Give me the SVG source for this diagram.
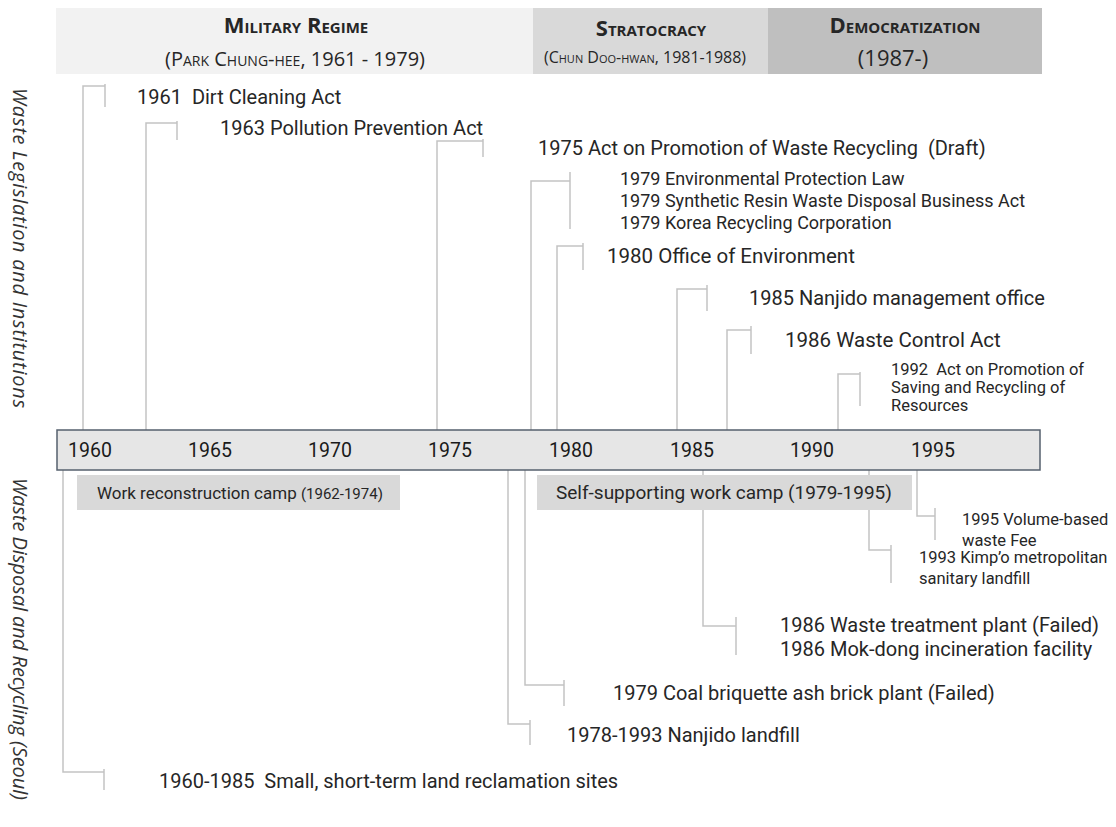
<svg xmlns="http://www.w3.org/2000/svg" width="1116" height="827" viewBox="0 0 1116 827">
<style>
.hdr{font-family:"Open Sans","Liberation Sans",sans-serif;fill:#262626;text-anchor:middle}
.ttl{font-weight:bold;font-size:22px;font-variant:small-caps}
.sub{font-size:20px;font-variant:small-caps}
.lbl{font-family:Roboto,"Liberation Sans",sans-serif;fill:#262626;font-size:20px}
.s18{font-size:18px}
.s16{font-size:16.5px}
.side{font-family:"Open Sans","Liberation Sans",sans-serif;font-style:italic;font-size:20px;fill:#333}
.yr{font-family:Roboto,"Liberation Sans",sans-serif;font-size:19.5px;fill:#1a1a1a}
.con{fill:none;stroke:#c3c3c3;stroke-width:1.5}
</style>
<rect width="1116" height="827" fill="#ffffff"/>
<g id="header">
<rect x="56" y="8" width="477" height="66" fill="#f2f2f2"/>
<rect x="533" y="8" width="235" height="66" fill="#d9d9d9"/>
<rect x="768" y="8" width="274" height="66" fill="#bfbfbf"/>
<text class="hdr ttl" x="296" y="33">Military Regime</text>
<text class="hdr sub" x="295" y="66">(Park Chung-hee, 1961 - 1979)</text>
<text class="hdr ttl" x="651" y="36">Stratocracy</text>
<text class="hdr sub" x="645" y="63" style="font-size:16px">(Chun Doo-hwan, 1981-1988)</text>
<text class="hdr ttl" x="905" y="33">Democratization</text>
<text class="hdr" x="893" y="66" style="font-size:22px">(1987-)</text>
</g>
<g id="side-labels">
<text class="side" transform="translate(13,248) rotate(90)" text-anchor="middle" textLength="320" lengthAdjust="spacing">Waste Legislation and Institutions</text>
<text class="side" transform="translate(13,639) rotate(90)" text-anchor="middle" textLength="322" lengthAdjust="spacing">Waste Disposal and Recycling (Seoul)</text>
</g>
<g id="connectors">
<path class="con" d="M83,430V86H105M105,84V107"/>
<path class="con" d="M146,430V123H177M177,121V140"/>
<path class="con" d="M437,430V141H483M483,139V157"/>
<path class="con" d="M531,430V181H570M570,172V229"/>
<path class="con" d="M557,430V246H583M583,243V270"/>
<path class="con" d="M677,430V289H707M707,285V311"/>
<path class="con" d="M727,430V330H751M751,326V354"/>
<path class="con" d="M838,430V374H860M860,372V406"/>
<path class="con" d="M63,470V772H104M104,769V790"/>
<path class="con" d="M508,470V724H530M530,720V745"/>
<path class="con" d="M525,470V685H564M564,680V706"/>
<path class="con" d="M703,470V626H736M736,617V655"/>
<path class="con" d="M869,470V550H891M891,545V583"/>
<path class="con" d="M917,470V516H935M935,508V540"/>
</g>
<g id="timeline">
<rect x="57" y="430" width="983" height="40" fill="#e6e6e6" stroke="#56606e" stroke-width="1.5"/>
<text class="yr" x="68" y="457">1960</text>
<text class="yr" x="188" y="457">1965</text>
<text class="yr" x="308" y="457">1970</text>
<text class="yr" x="428" y="457">1975</text>
<text class="yr" x="549" y="457">1980</text>
<text class="yr" x="670" y="457">1985</text>
<text class="yr" x="790" y="457">1990</text>
<text class="yr" x="911" y="457">1995</text>
</g>
<g id="camp-1962">
<rect x="77" y="475" width="323" height="35" fill="#d9d9d9"/>
<text class="lbl" x="97" y="499" style="font-size:17px">Work reconstruction camp <tspan style="font-size:15px">(1962-1974)</tspan></text>
</g>
<g id="camp-1979">
<rect x="537" y="475" width="375" height="35" fill="#d9d9d9"/>
<text class="lbl" x="556" y="499" style="font-size:19px">Self-supporting work camp (1979-1995)</text>
</g>
<g id="n1961"><text class="lbl" x="137" y="104" xml:space="preserve">1961  Dirt Cleaning Act</text></g>
<g id="n1963"><text class="lbl" x="220" y="135">1963 Pollution Prevention Act</text></g>
<g id="n1975"><text class="lbl" x="538" y="155" xml:space="preserve">1975 Act on Promotion of Waste Recycling  (Draft)</text></g>
<g id="n1979">
<text class="lbl s18" x="620" y="185">1979 Environmental Protection Law</text>
<text class="lbl s18" x="620" y="207">1979 Synthetic Resin Waste Disposal Business Act</text>
<text class="lbl s18" x="620" y="229">1979 Korea Recycling Corporation</text>
</g>
<g id="n1980"><text class="lbl" x="607" y="263" style="font-size:20.5px">1980 Office of Environment</text></g>
<g id="n1985"><text class="lbl" x="749" y="305">1985 Nanjido management office</text></g>
<g id="n1986"><text class="lbl" x="785" y="347" style="font-size:20.5px">1986 Waste Control Act</text></g>
<g id="n1992">
<text class="lbl s16" x="891" y="375" xml:space="preserve">1992  Act on Promotion of</text>
<text class="lbl s16" x="891" y="393">Saving and Recycling of</text>
<text class="lbl s16" x="891" y="411">Resources</text>
</g>
<g id="n1995">
<text class="lbl s16" x="962" y="525">1995 Volume-based</text>
<text class="lbl s16" x="962" y="546">waste Fee</text>
</g>
<g id="n1993">
<text class="lbl s16" x="919" y="563">1993 Kimp’o metropolitan</text>
<text class="lbl s16" x="919" y="584">sanitary landfill</text>
</g>
<g id="n1986b">
<text class="lbl" x="780" y="632">1986 Waste treatment plant (Failed)</text>
<text class="lbl" x="780" y="656">1986 Mok-dong incineration facility</text>
</g>
<g id="n1979b"><text class="lbl" x="613" y="700">1979 Coal briquette ash brick plant (Failed)</text></g>
<g id="n1978"><text class="lbl" x="567" y="742">1978-1993 Nanjido landfill</text></g>
<g id="n1960"><text class="lbl" x="159" y="788" xml:space="preserve">1960-1985  Small, short-term land reclamation sites</text></g>
</svg>
